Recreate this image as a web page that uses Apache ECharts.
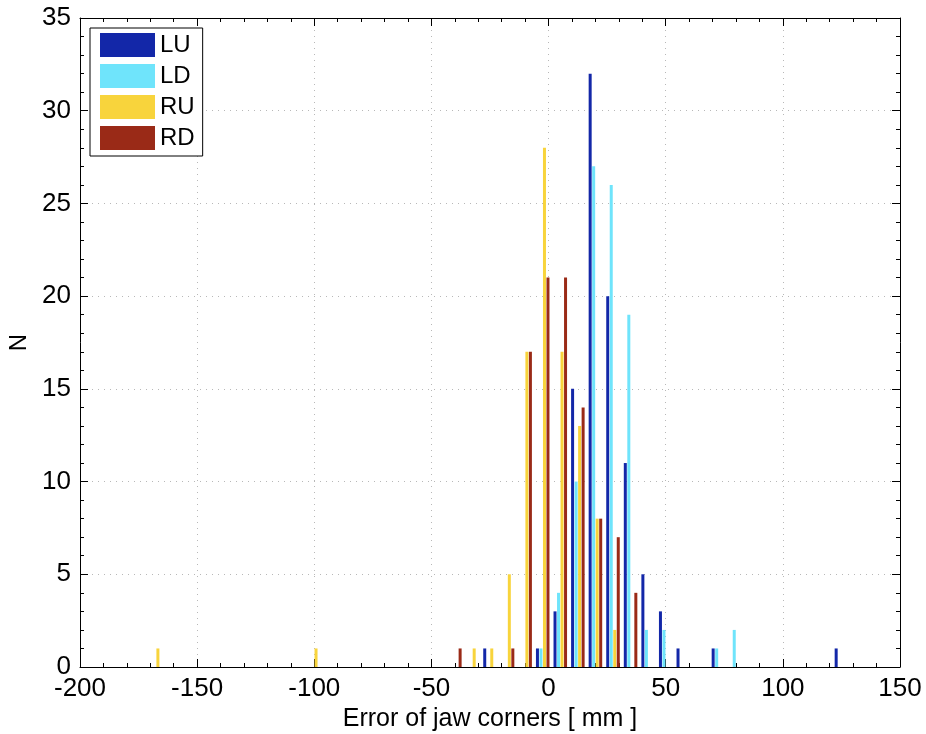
<!DOCTYPE html>
<html>
<head>
<meta charset="utf-8">
<script src="https://cdn.jsdelivr.net/npm/echarts@6/dist/echarts.min.js"></script>
<style>html,body{margin:0;padding:0;background:#fff;}#c{width:926px;height:734px;}</style>
</head>
<body>
<div id="c"></div>
<script>
// Bin centers (mm) and counts per series
const binCenters = [-167.5, -100, -40, -32.5, -25, -17.5, -10, -2.5, 5, 12.5, 20, 27.5, 35, 42.5, 50, 57.5, 72.5, 80, 125];
const LU = [0, 0, 0, 0, 1, 0, 0, 1, 3, 15, 32, 20, 11, 5, 3, 1, 1, 0, 1];
const LD = [0, 0, 0, 0, 0, 0, 0, 1, 4, 10, 27, 26, 19, 2, 2, 0, 1, 2, 0];
const RU = [1, 1, 0, 1, 1, 5, 17, 28, 17, 13, 8, 2, 0, 0, 0, 0, 0, 0, 0];
const RD = [0, 0, 1, 0, 0, 1, 17, 21, 21, 14, 8, 7, 4, 0, 0, 0, 0, 0, 0];
const seriesNames = ['LU', 'LD', 'RU', 'RD'];
const seriesValues = [LU, LD, RU, RD];
const colors = ['#1327a8', '#6fe4fb', '#f8d43c', '#9a2a17'];

const FONT = 'Liberation Sans';
const chart = echarts.init(document.getElementById('c'));

function axisBase(extra) {
  return Object.assign({
    type: 'value',
    axisLine: { show: true, onZero: false, lineStyle: { color: '#000', width: 1 } },
    axisTick: { show: true, inside: true, length: 8, lineStyle: { color: '#000' } },
    minorTick: { show: true, splitNumber: 5, length: 4, lineStyle: { color: '#000' } },
    splitLine: { show: false },
    minorSplitLine: { show: false }
  }, extra);
}

const xMain = axisBase({
  min: -200, max: 150, interval: 50, position: 'bottom',
  name: 'Error of jaw corners [ mm ]', nameLocation: 'middle', nameGap: 37,
  nameTextStyle: { fontFamily: FONT, fontSize: 25, color: '#000' },
  axisLabel: { fontFamily: FONT, fontSize: 26, color: '#000', margin: 9 },
  splitLine: { show: true, lineStyle: { color: '#b8b8b8', type: [1, 5], width: 1 } }
});
const xTop = axisBase({
  min: -200, max: 150, interval: 50, position: 'top',
  axisLabel: { show: false }
});
const yMain = axisBase({
  min: 0, max: 35, interval: 5, position: 'left',
  name: 'N', nameLocation: 'middle', nameGap: 45, nameRotate: 90,
  nameTextStyle: { fontFamily: FONT, fontSize: 24, color: '#000' },
  axisLabel: { fontFamily: FONT, fontSize: 26, color: '#000', margin: 9 },
  splitLine: { show: true, lineStyle: { color: '#b8b8b8', type: [1, 5], width: 1 } }
});
const yRight = axisBase({
  min: 0, max: 35, interval: 5, position: 'right',
  axisLabel: { show: false }
});

const series = seriesNames.map((name, i) => ({
  name: name,
  type: 'bar',
  xAxisIndex: 0,
  yAxisIndex: 0,
  barWidth: 3,
  barGap: '17%',
  itemStyle: { color: colors[i] },
  data: binCenters.map((c, k) => [c, seriesValues[i][k]])
}));

chart.setOption({
  animation: false,
  backgroundColor: '#fff',
  grid: { left: 80, right: 26, top: 18, bottom: 67, show: false, containLabel: false, outerBoundsMode: 'none' },
  legend: {
    orient: 'vertical', left: 90, top: 28,
    data: seriesNames,
    itemWidth: 55, itemHeight: 24, itemGap: 7,
    padding: [5, 8, 6, 10],
    borderColor: '#000', borderWidth: 1, backgroundColor: '#fff',
    icon: 'rect',
    textStyle: { fontFamily: FONT, fontSize: 24, color: '#000' }
  },
  xAxis: [xMain, xTop],
  yAxis: [yMain, yRight],
  series: series
});
</script>
</body>
</html>
